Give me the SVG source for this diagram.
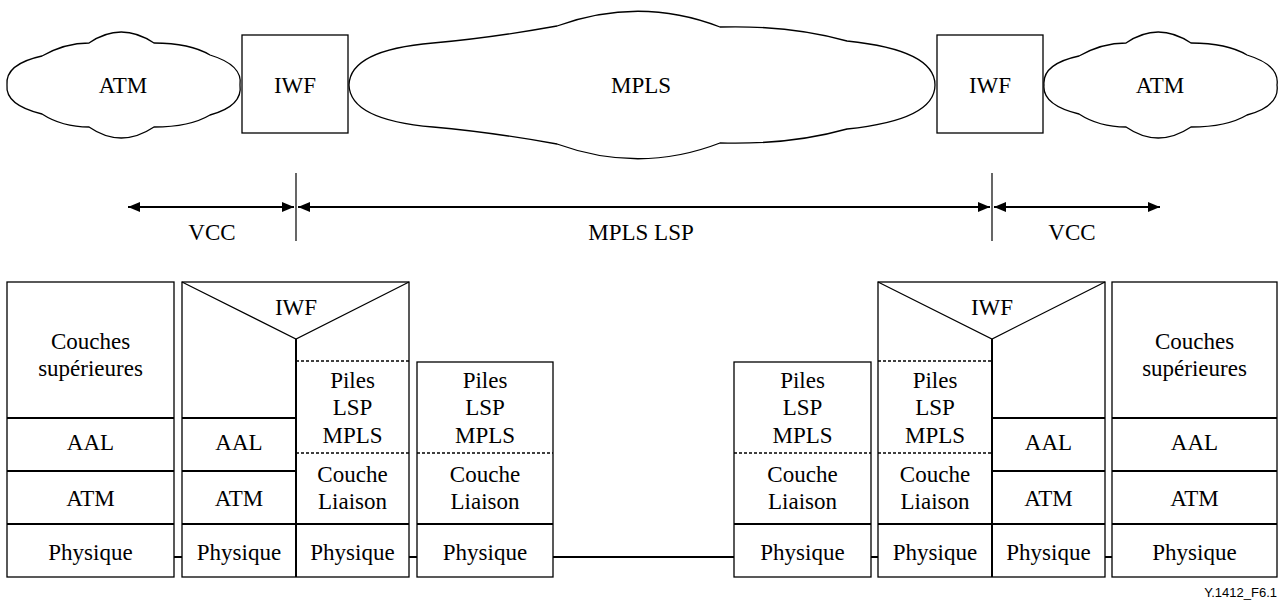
<svg xmlns="http://www.w3.org/2000/svg" width="1282" height="600" viewBox="0 0 1282 600">
<defs>
<style>
.sh{fill:#fff;stroke:#000;stroke-width:1.3}
.div{stroke:#000;stroke-width:2;fill:none}
.dot{stroke:#000;stroke-width:1.6;stroke-dasharray:3,2;fill:none}
.thin{stroke:#000;stroke-width:1.2;fill:none}
.arr{stroke:#000;stroke-width:2.2;fill:none;marker-start:url(#ah);marker-end:url(#ah)}
</style>
<marker id="ah" viewBox="0 0 12 10" refX="12" refY="5" markerWidth="12" markerHeight="10" markerUnits="userSpaceOnUse" orient="auto-start-reverse">
<path d="M0,0 L12,5 L0,10 Z" fill="#000"/>
</marker>
<path id="cloud" d="M42 56 Q65 43 89 43 Q121 21 154 43 Q190 43 210 55 Q243 65 240 85 Q243 106 210 115 Q190 127 154 127 Q121 149 89 127 Q62 127 42 114 Q5 105 7 85 Q5 64 42 56 Z"/>
</defs>
<rect width="1282" height="600" fill="#fff"/>

<g text-anchor="middle" fill="#000">
<g id="atm-left">
<use href="#cloud" class="sh"/>
<text font-family="Liberation Serif" font-size="23" x="123" y="93">ATM</text>
</g>
<g id="iwf-left">
<rect x="242" y="35" width="106" height="98" class="sh"/>
<text font-family="Liberation Serif" font-size="23" x="295" y="93">IWF</text>
</g>
<g id="mpls">
<path class="sh" d="M349 85 Q350 50 433 43 Q490 38 557 26 Q640 -4 720 27 Q790 25 847 41 Q935 50 935 85 Q935 120 847 129 Q790 145 720 143 Q640 174 557 144 Q490 132 433 127 Q350 120 349 85 Z"/>
<text font-family="Liberation Serif" font-size="23" x="641" y="93">MPLS</text>
</g>
<g id="iwf-right">
<rect x="937" y="35" width="106" height="98" class="sh"/>
<text font-family="Liberation Serif" font-size="23" x="990" y="93">IWF</text>
</g>
<g id="atm-right">
<use href="#cloud" class="sh" transform="translate(1037,0)"/>
<text font-family="Liberation Serif" font-size="23" x="1160" y="93">ATM</text>
</g>

<g id="connectors">
<line x1="296" y1="173" x2="296" y2="241" class="thin"/>
<line x1="992" y1="173" x2="992" y2="241" class="thin"/>
<line x1="128" y1="207" x2="294" y2="207" class="arr"/>
<line x1="298" y1="207" x2="990" y2="207" class="arr"/>
<line x1="994" y1="207" x2="1160" y2="207" class="arr"/>
<line x1="174" y1="557" x2="182" y2="557" class="div"/>
<line x1="409" y1="557" x2="417" y2="557" class="div"/>
<line x1="553" y1="557" x2="734" y2="557" class="div"/>
<line x1="871" y1="557" x2="878" y2="557" class="div"/>
<line x1="1105" y1="557" x2="1112" y2="557" class="div"/>
</g>
<g id="labels">
<text font-family="Liberation Serif" font-size="23" x="212" y="240">VCC</text>
<text font-family="Liberation Serif" font-size="23" x="641" y="240">MPLS LSP</text>
<text font-family="Liberation Serif" font-size="23" x="1072" y="240">VCC</text>
</g>

<g id="stack1">
<rect x="7" y="282" width="167" height="295" class="sh"/>
<line x1="7" y1="418" x2="174" y2="418" class="div"/>
<line x1="7" y1="471" x2="174" y2="471" class="div"/>
<line x1="7" y1="524" x2="174" y2="524" class="div"/>
<text font-family="Liberation Serif" font-size="23" x="90.5" y="349">Couches</text>
<text font-family="Liberation Serif" font-size="23" x="90.5" y="376">supérieures</text>
<text font-family="Liberation Serif" font-size="23" x="90.5" y="450">AAL</text>
<text font-family="Liberation Serif" font-size="23" x="90.5" y="506">ATM</text>
<text font-family="Liberation Serif" font-size="23" x="90.5" y="560">Physique</text>
</g>

<g id="stack2">
<rect x="182" y="282" width="227" height="295" class="sh"/>
<polyline points="182,282 296,339 409,282" class="thin"/>
<line x1="296" y1="339" x2="296" y2="577" class="div"/>
<line x1="182" y1="418" x2="296" y2="418" class="div"/>
<line x1="182" y1="471" x2="296" y2="471" class="div"/>
<line x1="182" y1="524" x2="409" y2="524" class="div"/>
<line x1="296" y1="361" x2="409" y2="361" class="dot"/>
<line x1="296" y1="453" x2="409" y2="453" class="dot"/>
<text font-family="Liberation Serif" font-size="23" x="296" y="315">IWF</text>
<text font-family="Liberation Serif" font-size="23" x="239" y="450">AAL</text>
<text font-family="Liberation Serif" font-size="23" x="239" y="506">ATM</text>
<text font-family="Liberation Serif" font-size="23" x="239" y="560">Physique</text>
<text font-family="Liberation Serif" font-size="23" x="352.5" y="388">Piles</text>
<text font-family="Liberation Serif" font-size="23" x="352.5" y="415">LSP</text>
<text font-family="Liberation Serif" font-size="23" x="352.5" y="443">MPLS</text>
<text font-family="Liberation Serif" font-size="23" x="352.5" y="482">Couche</text>
<text font-family="Liberation Serif" font-size="23" x="352.5" y="509">Liaison</text>
<text font-family="Liberation Serif" font-size="23" x="352.5" y="560">Physique</text>
</g>

<g id="stack3">
<rect x="417" y="362" width="136" height="215" class="sh"/>
<line x1="417" y1="453" x2="553" y2="453" class="dot"/>
<line x1="417" y1="524" x2="553" y2="524" class="div"/>
<text font-family="Liberation Serif" font-size="23" x="485" y="388">Piles</text>
<text font-family="Liberation Serif" font-size="23" x="485" y="415">LSP</text>
<text font-family="Liberation Serif" font-size="23" x="485" y="443">MPLS</text>
<text font-family="Liberation Serif" font-size="23" x="485" y="482">Couche</text>
<text font-family="Liberation Serif" font-size="23" x="485" y="509">Liaison</text>
<text font-family="Liberation Serif" font-size="23" x="485" y="560">Physique</text>
</g>

<g id="stack4">
<rect x="734" y="362" width="137" height="215" class="sh"/>
<line x1="734" y1="453" x2="871" y2="453" class="dot"/>
<line x1="734" y1="524" x2="871" y2="524" class="div"/>
<text font-family="Liberation Serif" font-size="23" x="802.5" y="388">Piles</text>
<text font-family="Liberation Serif" font-size="23" x="802.5" y="415">LSP</text>
<text font-family="Liberation Serif" font-size="23" x="802.5" y="443">MPLS</text>
<text font-family="Liberation Serif" font-size="23" x="802.5" y="482">Couche</text>
<text font-family="Liberation Serif" font-size="23" x="802.5" y="509">Liaison</text>
<text font-family="Liberation Serif" font-size="23" x="802.5" y="560">Physique</text>
</g>

<g id="stack5">
<rect x="878" y="282" width="227" height="295" class="sh"/>
<polyline points="878,282 992,339 1105,282" class="thin"/>
<line x1="992" y1="339" x2="992" y2="577" class="div"/>
<line x1="992" y1="418" x2="1105" y2="418" class="div"/>
<line x1="992" y1="471" x2="1105" y2="471" class="div"/>
<line x1="878" y1="524" x2="1105" y2="524" class="div"/>
<line x1="878" y1="361" x2="992" y2="361" class="dot"/>
<line x1="878" y1="453" x2="992" y2="453" class="dot"/>
<text font-family="Liberation Serif" font-size="23" x="992" y="315">IWF</text>
<text font-family="Liberation Serif" font-size="23" x="935" y="388">Piles</text>
<text font-family="Liberation Serif" font-size="23" x="935" y="415">LSP</text>
<text font-family="Liberation Serif" font-size="23" x="935" y="443">MPLS</text>
<text font-family="Liberation Serif" font-size="23" x="935" y="482">Couche</text>
<text font-family="Liberation Serif" font-size="23" x="935" y="509">Liaison</text>
<text font-family="Liberation Serif" font-size="23" x="935" y="560">Physique</text>
<text font-family="Liberation Serif" font-size="23" x="1048.5" y="450">AAL</text>
<text font-family="Liberation Serif" font-size="23" x="1048.5" y="506">ATM</text>
<text font-family="Liberation Serif" font-size="23" x="1048.5" y="560">Physique</text>
</g>

<g id="stack6">
<rect x="1112" y="282" width="165" height="295" class="sh"/>
<line x1="1112" y1="418" x2="1277" y2="418" class="div"/>
<line x1="1112" y1="471" x2="1277" y2="471" class="div"/>
<line x1="1112" y1="524" x2="1277" y2="524" class="div"/>
<text font-family="Liberation Serif" font-size="23" x="1194.5" y="349">Couches</text>
<text font-family="Liberation Serif" font-size="23" x="1194.5" y="376">supérieures</text>
<text font-family="Liberation Serif" font-size="23" x="1194.5" y="450">AAL</text>
<text font-family="Liberation Serif" font-size="23" x="1194.5" y="506">ATM</text>
<text font-family="Liberation Serif" font-size="23" x="1194.5" y="560">Physique</text>
</g>
</g>

<text font-family="Liberation Sans" font-size="13" text-anchor="end" x="1277" y="597">Y.1412_F6.1</text>
</svg>
